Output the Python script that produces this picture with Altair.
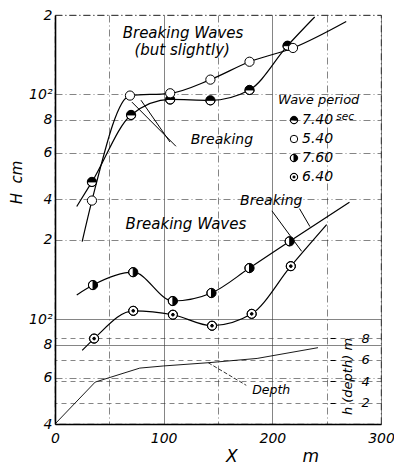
import altair as alt
import pandas as pd

K = 7.1  # offset factor between the two stacked log scales (upper group drawn K times higher)

# ---------------- data ----------------
series_names = ["7.40", "5.40", "7.60", "6.40"]
series_panel = ["upper", "upper", "lower", "lower"]

x_740 = [34, 70, 106, 143, 179, 214]
h_740 = [46.6, 83.6, 95.7, 95.0, 104, 153]
x_540 = [34, 69, 106, 143, 179, 219]
h_540 = [39.6, 99, 101, 113.8, 133, 150]
x_760 = [35, 72, 108.5, 144, 179, 216]
h_760 = [134.5, 150.5, 117, 125.5, 156, 197]
x_640 = [36, 72, 108.5, 144.5, 181, 217]
h_640 = [84.3, 107.4, 103.8, 94.3, 104.6, 158.6]

# where each drawn curve starts and ends
curve_x0 = [20, 25, 20, 25]
curve_h0 = [37.6, 27.7, 123.4, 76]
curve_x1 = [239, 268, 271, 250]
curve_h1 = [196.6, 189, 277, 228]

# depth profile (m)
depth_x = [0, 37, 78, 100, 141, 186, 242]
depth_h = [0, 3.9, 5.2, 5.4, 5.7, 6.1, 7.1]

# "Breaking" leader lines
lead_seg = ["A", "A", "B", "B", "C", "C", "D", "D"]
lead_x = [70.8, 111.3, 79.1, 105.8, 199.6, 227, 225, 234.6]
lead_h = [93.5, 63.6, 95.1, 66.0, 257, 180.5, 262, 224]
lead_panel = ["upper"] * 4 + ["lower"] * 4

# annotation texts
big_text = ["Breaking Waves", "(but slightly)", "Breaking Waves"]
big_x = [117.8, 117, 120.5]
big_h = [171, 147.5, 230]
big_panel = ["upper", "upper", "lower"]
mid_text = ["Breaking", "Breaking"]
mid_x = [153.6, 199]
mid_h = [67.2, 281]
mid_panel = ["upper", "lower"]

# ---------------- tables ----------------
xs_all = [x_740, x_540, x_760, x_640]
hs_all = [h_740, h_540, h_760, h_640]
mrows, crows = [], []
for i, name in enumerate(series_names):
    for x, h in zip(xs_all[i], hs_all[i]):
        mrows.append(dict(series=name, panel=series_panel[i], x=x, H=h))
        crows.append(dict(series=name, panel=series_panel[i], x=x, H=h))
    crows.append(dict(series=name, panel=series_panel[i], x=curve_x0[i], H=curve_h0[i]))
    crows.append(dict(series=name, panel=series_panel[i], x=curve_x1[i], H=curve_h1[i]))
markers = pd.DataFrame(mrows)
curves = pd.DataFrame(crows)
depth = pd.DataFrame(dict(x=depth_x, d=depth_h))
leads = pd.DataFrame(dict(seg=lead_seg, x=lead_x, H=lead_h, panel=lead_panel))
bigt = pd.DataFrame(dict(text=big_text, x=big_x, H=big_h, panel=big_panel))
midt = pd.DataFrame(dict(text=mid_text, x=mid_x, H=mid_h, panel=mid_panel))
sect = pd.DataFrame(dict(text=["sec"], x=[267], H=[82], panel=["upper"]))
deptht = pd.DataFrame(dict(text=["Depth"], x=[199], d=[3.2]))
dlead = pd.DataFrame(dict(x=[141, 176], d=[5.7, 3.6]))

CALC = f"datum.H * (datum.panel == 'upper' ? {K} : 1)"
FONT = "DejaVu Sans"

# ---------------- scales / axes ----------------
ytick_values = [40, 60, 80, 100, 200] + [v * K for v in [40, 60, 80, 100, 200]]
yv = "(datum.value < 250 ? round(datum.value) : round(datum.value / 7.1))"
label_expr = f"{yv} == 100 ? '10\u00b2' : {yv} == 200 ? '2' : toString({yv} / 10)"

yaxis = alt.Axis(
    values=ytick_values, labelExpr=label_expr, tickSize=0, labelPadding=3,
    labelFont=FONT, labelFontStyle="italic", labelFontSize=14, labelColor="black",
    labelOverlap=False, domainColor="black", domainWidth=1.6,
    grid=True, gridColor="#333", gridWidth=0.6,
    gridDash={"condition": {"test": "datum.value == 100 || datum.value == 80", "value": []},
              "value": [7, 3, 1, 3]},
    title="H\u00a0\u00a0cm", titleFont=FONT, titleFontSize=15, titleFontStyle="italic",
    titleFontWeight="normal", titleColor="black", titleX=-39, titleY=167,
    titleAngle=270, titleAlign="center", titleBaseline="middle",
)
xaxis = alt.Axis(
    values=[0, 50, 100, 150, 200, 250, 300],
    labelExpr="datum.value % 100 == 0 ? toString(datum.value) : ''",
    tickSize=0, labelPadding=7, labelFont=FONT, labelFontStyle="italic",
    labelFontSize=14, labelColor="black", labelFlush=False,
    domainColor="black", domainWidth=1.6,
    grid=True, gridColor="#333", gridWidth=0.6,
    gridDash={"condition": {"test": "datum.value % 100 == 0", "value": []},
              "value": [7, 3, 1, 3]},
    title="X" + "\u00a0" * 12 + "m", titleFont=FONT, titleFontSize=17,
    titleFontStyle="italic", titleFontWeight="normal", titleColor="black",
    titleX=217, titleY=37, titleAlign="center", titleBaseline="alphabetic",
)
daxis = alt.Axis(
    orient="right", offset=-51, values=[2, 4, 6, 8], domain=False, tickSize=5,
    tickColor="black", labelPadding=26, labelFont=FONT, labelFontStyle="italic",
    labelFontSize=13, labelColor="black",
    grid=True, gridColor="#333", gridWidth=0.6, gridDash=[5, 4],
    title="h (depth)  m", titleFont=FONT, titleFontSize=13, titleFontStyle="italic",
    titleFontWeight="normal", titleColor="black", titleX=17, titleY=361,
    titleAngle=270, titleAlign="center", titleBaseline="middle",
)

def X():
    return alt.X("x:Q", scale=alt.Scale(domain=[0, 300], nice=False), axis=xaxis)

def Y():
    return alt.Y("yp:Q", scale=alt.Scale(type="log", domain=[40, 200 * K], nice=False), axis=yaxis)

def D():
    return alt.Y("d:Q", scale=alt.Scale(domain=[0, 409 / 10.75], nice=False), axis=daxis)

# custom marker paths (nonzero winding leaves half / ring unfilled)
P740 = "M0,-1A1,1 0 1,1 0,1A1,1 0 1,1 0,-1Z M-1,0A1,1 0 0,0 1,0Z"
P760 = "M0,-1A1,1 0 1,1 0,1A1,1 0 1,1 0,-1Z M0,-1A1,1 0 0,0 0,1Z"
P640 = ("M0,-1A1,1 0 1,1 0,1A1,1 0 1,1 0,-1Z "
        "M0,-0.97A0.97,0.97 0 1,0 0,0.97A0.97,0.97 0 1,0 0,-0.97Z "
        "M0,-0.3A0.3,0.3 0 1,1 0,0.3A0.3,0.3 0 1,1 0,-0.3Z")

lines = alt.Chart(curves).transform_calculate(yp=CALC).mark_line(
    color="black", strokeWidth=1.2, interpolate="monotone"
).encode(x=X(), y=Y(), detail="series:N")

leaders = alt.Chart(leads).transform_calculate(yp=CALC).mark_line(
    color="black", strokeWidth=1
).encode(x=X(), y=Y(), detail="seg:N")

whites = alt.Chart(markers).transform_calculate(yp=CALC).mark_point(
    shape="circle", filled=True, color="white", size=85, opacity=1
).encode(x=X(), y=Y())

pts = alt.Chart(markers).transform_calculate(yp=CALC).mark_point(
    filled=True, strokeWidth=1, size=85, opacity=1
).encode(
    x=X(), y=Y(),
    shape=alt.Shape("series:N", scale=alt.Scale(domain=series_names, range=[P740, "circle", P760, P640]),
                    title="Wave period"),
    fill=alt.Fill("series:N", scale=alt.Scale(domain=series_names, range=["black", "white", "black", "black"]),
                  title="Wave period"),
    stroke=alt.Stroke("series:N", scale=alt.Scale(domain=series_names, range=["black"] * 4),
                      title="Wave period"),
)

t_big = alt.Chart(bigt).transform_calculate(yp=CALC).mark_text(
    font=FONT, fontStyle="italic", fontSize=15, color="black", align="center", baseline="middle"
).encode(x=X(), y=Y(), text="text:N")
t_mid = alt.Chart(midt).transform_calculate(yp=CALC).mark_text(
    font=FONT, fontStyle="italic", fontSize=14, color="black", align="center", baseline="middle"
).encode(x=X(), y=Y(), text="text:N")
t_sec = alt.Chart(sect).transform_calculate(yp=CALC).mark_text(
    font=FONT, fontStyle="italic", fontSize=10.5, color="black", align="center", baseline="middle"
).encode(x=X(), y=Y(), text="text:N")

hlayer = alt.layer(lines, leaders, whites, pts, t_big, t_mid, t_sec)

dline = alt.Chart(depth).mark_line(color="black", strokeWidth=0.9).encode(x=X(), y=D())
dlead_l = alt.Chart(dlead).mark_line(color="black", strokeWidth=0.8, strokeDash=[4, 2]).encode(x=X(), y=D())
dtext = alt.Chart(deptht).mark_text(
    font=FONT, fontStyle="italic", fontSize=12.5, color="black", align="center", baseline="middle"
).encode(x=X(), y=D(), text="text:N")
dlayer = alt.layer(dline, dlead_l, dtext)

chart = alt.layer(hlayer, dlayer).resolve_scale(y="independent").properties(
    width=326, height=409,
    autosize=alt.AutoSizeParams(type="none"),
    padding={"left": 47, "top": 7, "right": 13, "bottom": 40},
    background="white",
).configure_view(
    stroke="black", strokeWidth=0.8, strokeDash=[7, 3, 1, 3]
).configure_legend(
    orient="none", legendX=223, legendY=79, padding=0,
    titleFont=FONT, titleFontSize=13, titleFontStyle="italic", titleFontWeight="normal",
    titleColor="black", titlePadding=6,
    labelFont=FONT, labelFontSize=14, labelFontStyle="italic", labelColor="black",
    symbolSize=55, symbolOffset=9, labelOffset=1, rowPadding=5,
    symbolStrokeColor="black", symbolStrokeWidth=1,
)

chart.save("out.html", embed_options={"renderer": "svg", "actions": False})
